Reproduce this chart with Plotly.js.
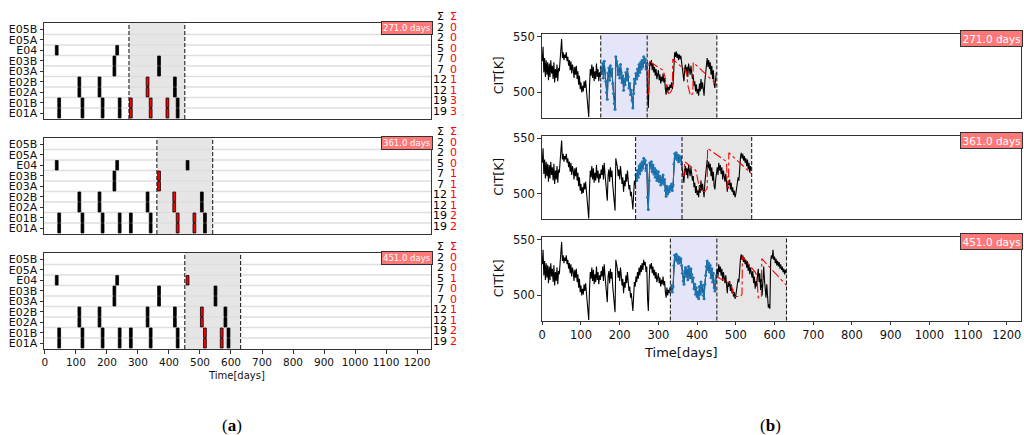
<!DOCTYPE html>
<html>
<head>
<meta charset="utf-8">
<script src="https://cdn.plot.ly/plotly-3.0.1.min.js"></script>
<style>html,body{margin:0;padding:0;background:#fff;}#chart{width:1024px;height:435px;}</style>
</head>
<body>
<div id="chart"></div>
<script>
// ---------------- DATA ----------------
const ROW_LABELS = ['E01A','E01B','E02A','E02B','E03A','E03B','E04','E05A','E05B'];
const GROUP_ROWS = {E01:[0,1], E02:[2,3], E03:[4,5], E04:[6], E05:[7,8]};
const SUM_TOTAL = [19,19,12,12,7,7,5,2,2];
const SUM_RED_P1 = [3,3,1,1,0,0,0,0,0];
const SUM_RED_P2 = [2,2,1,1,1,1,0,0,0];
const SUM_RED_P3 = [2,2,1,1,0,0,1,0,0];
const WINDOW_START = [271, 361, 451];
const WINDOW_LEN = 180;
const HISTORY_LEN = 120;
const DAY_LABELS = ['271.0 days','361.0 days','451.0 days'];
const X_TICKS = [0,100,200,300,400,500,600,700,800,900,1000,1100,1200];

// maintenance events (day of event) per group
const EVENTS_P1_BLACK = {E01:[46,121,186,241,428], E02:[111,176,419], E03:[224,368], E04:[38,233]};
const EVENTS_P1_RED   = {E01:[277,341,395], E02:[331]};
const EVENTS_P2_BLACK = {E01:[46,121,186,241,277,341,516], E02:[111,176,331,506], E03:[224], E04:[38,233,460]};
const EVENTS_P2_RED   = {E01:[428,482], E02:[417], E03:[368]};
const EVENTS_P3_BLACK = {E01:[46,121,186,241,277,341,428,592], E02:[111,176,331,419,582], E03:[224,368,550], E04:[38,233]};
const EVENTS_P3_RED   = {E01:[516,570], E02:[506], E04:[460]};

// CIT [K] measured series, one value every 2 days starting at day 0
const CIT_STEP_DAYS = 2;
const CIT_VALUES = [
528,541,518,531,514,529,516,527,511,526,514,529,517,524,512,527,509,521,513,525,
510,522,519,528,531,548,531,536,529,534,531,536,528,532,524,529,520,528,517,525,
521,513,523,516,524,512,519,507,515,503,509,500,506,501,510,504,511,502,496,486,
478,505,521,515,525,513,523,510,519,512,526,514,521,510,518,514,522,517,526,513,
528,518,510,500,494,517,522,511,524,515,521,508,499,490,485,532,528,524,516,522,
513,525,518,509,515,502,512,507,518,511,521,514,504,508,498,502,493,486,499,512,
508,517,512,521,515,525,518,527,521,529,523,532,527,530,521,526,497,486,512,528,
524,529,520,526,518,523,515,521,512,517,520,511,516,508,514,510,517,509,513,503,
498,507,500,505,502,507,504,509,503,508,527,536,532,537,531,535,529,534,530,533,
527,520,513,510,522,525,517,523,514,526,521,516,524,519,512,516,506,510,501,507,
499,503,497,508,501,512,503,509,500,497,510,518,526,531,523,529,521,527,516,524,
512,520,507,504,513,518,524,517,528,521,526,518,524,513,521,516,511,518,506,502,
512,508,513,504,510,502,506,499,503,497,500,505,510,515,512,525,533,537,532,536,
530,534,528,532,525,531,522,528,519,525,521,516,522,511,517,506,513,508,518,524,
512,520,505,515,500,522,526,514,504,498,510,495,489,492,488,531,536,533,541,532,
535,529,533,527,531,526,530,524,528,523,526,521,524,519,523,520
];

// predicted CIT (red dash-dot) vertices per panel
const PRED_P1_DAYS = [271,275,276,312,317,321,326,331,336,337,372,377,383,389,390,451];
const PRED_P1_VALS = [497,500,528,520,514,504,499,500,503,530,519,505,497,499,527,507];
const PRED_P2_DAYS = [361,366,368,397,405,410,420,426,427,476,478,481,482,541];
const PRED_P2_VALS = [518,516,529,521,507,503,502,505,541,529,506,505,537,518];
const PRED_P3_DAYS = [451,460,488,492,498,512,516,517,550,554,558,566,567,631];
const PRED_P3_VALS = [517,515,511,503,499,499,501,535,521,518,498,498,533,509];

// ---------------- LAYOUT HELPERS ----------------
const W = 1024, H = 435;
const px = x => x / W;
const py = y => 1 - y / H;
const LINE = '#333';
const FONT = 'DejaVu Sans, sans-serif';

const leftX = [px(44), px(431)];
const leftY = [[23,119],[138,234],[253,349]];
const rightX = [px(541.7), px(1020.7)];
const rightY = [[34,117.5],[135.5,219],[237,320.5]];

const redSums = [SUM_RED_P1, SUM_RED_P2, SUM_RED_P3];
const blackEvents = [EVENTS_P1_BLACK, EVENTS_P2_BLACK, EVENTS_P3_BLACK];
const redEvents = [EVENTS_P1_RED, EVENTS_P2_RED, EVENTS_P3_RED];
const predDays = [PRED_P1_DAYS, PRED_P2_DAYS, PRED_P3_DAYS];
const predVals = [PRED_P1_VALS, PRED_P2_VALS, PRED_P3_VALS];

const citDays = CIT_VALUES.map((_, i) => i * CIT_STEP_DAYS);

const data = [];
const shapes = [];
const annotations = [];
const layout = {
  width: W, height: H,
  margin: {l:0, r:0, t:0, b:0},
  paper_bgcolor: '#fff', plot_bgcolor: '#fff',
  showlegend: false, barmode: 'overlay',
  font: {family: FONT, color: '#000'},
  shapes, annotations
};

function note(x, y, text, font, extra) {
  return Object.assign({xref:'paper', yref:'paper', x:px(x), y:py(y), text, showarrow:false,
                        xanchor:'center', yanchor:'middle', font}, extra || {});
}

function barTrace(events, color, ax) {
  const x = [], y = [], base = [];
  for (const g in events) {
    for (const r of GROUP_ROWS[g]) {
      for (const d of events[g]) { x.push(d); y.push(0.9); base.push(r - 0.45); }
    }
  }
  return {type:'bar', x, y, base, width: 9, xaxis:'x'+ax, yaxis:'y'+ax,
          marker:{color, line:{color:'#000', width:0.8}}, hoverinfo:'skip'};
}

for (let p = 0; p < 3; p++) {
  // ---------- LEFT (a) ----------
  const ax = p + 1;
  const xa = 'xaxis' + (ax === 1 ? '' : ax), ya = 'yaxis' + (ax === 1 ? '' : ax);
  const s = WINDOW_START[p], e = s + WINDOW_LEN;
  layout[xa] = {
    domain: leftX, range: [-3, 1245], anchor: 'y' + ax,
    showline: true, mirror: true, linecolor: LINE, linewidth: 1,
    showgrid: false, zeroline: false,
    tickmode: 'array', tickvals: X_TICKS,
    ticks: p === 2 ? 'outside' : '', ticklen: 3.5, tickcolor: LINE,
    showticklabels: p === 2, tickfont: {size: 10.5, color: '#111'}
  };
  layout[ya] = {
    domain: [py(leftY[p][1]), py(leftY[p][0])], range: [-0.55, 8.6], anchor: 'x' + ax,
    showline: true, mirror: true, linecolor: LINE, linewidth: 1,
    showgrid: false, zeroline: false,
    tickmode: 'array', tickvals: ROW_LABELS.map((_, i) => i), ticktext: ROW_LABELS,
    ticks: 'outside', ticklen: 3.5, tickcolor: LINE, tickfont: {size: 11, color: '#111'}
  };
  shapes.push({type:'rect', xref:'x'+ax, yref:'y'+ax+' domain', x0:s, x1:e, y0:0, y1:1,
               fillcolor:'#e6e6e6', line:{width:0}, layer:'below'});
  for (let r = 0; r < ROW_LABELS.length - 1; r++) {
    shapes.push({type:'line', xref:'x'+ax+' domain', yref:'y'+ax, x0:0, x1:1, y0:r+0.5, y1:r+0.5,
                 line:{color:'#dedede', width:1.5}, layer:'below'});
  }
  [s, e].forEach(d => shapes.push({type:'line', xref:'x'+ax, yref:'y'+ax+' domain', x0:d, x1:d, y0:0, y1:1,
               line:{color:'#222', width:1.1, dash:'4px,2px'}, layer:'above'}));
  data.push(barTrace(blackEvents[p], '#000', ax));
  data.push(barTrace(redEvents[p], '#ff0000', ax));
  // sums
  annotations.push(note(440, leftY[p][0] - 7, 'Σ', {size:11, color:'#000'}));
  annotations.push(note(453, leftY[p][0] - 7, 'Σ', {size:11, color:'#ff0000'}));
  for (let r = 0; r < ROW_LABELS.length; r++) {
    annotations.push({xref:'paper', yref:'y'+ax, x:px(440), y:r, xanchor:'center', yanchor:'middle',
      text:String(SUM_TOTAL[r]), showarrow:false, font:{size:11, color:'#000'}, yshift:2});
    annotations.push({xref:'paper', yref:'y'+ax, x:px(453), y:r, xanchor:'center', yanchor:'middle',
      text:String(redSums[p][r]), showarrow:false, font:{size:11, color:'#ff0000'}, yshift:2});
  }
  annotations.push(note(432.7, leftY[p][0] - 1.8, DAY_LABELS[p], {size:8.5, color:'#fff'},
    {xanchor:'right', yanchor:'top', bgcolor:'#ff7878', bordercolor:'#333', borderwidth:1, borderpad:1}));

  // ---------- RIGHT (b) ----------
  const bx = p + 4;
  const s0 = s - HISTORY_LEN;
  layout['xaxis' + bx] = {
    domain: rightX, range: [-1.5, 1236], anchor: 'y' + bx,
    showline: true, mirror: true, linecolor: LINE, linewidth: 1,
    showgrid: false, zeroline: false,
    tickmode: 'array', tickvals: X_TICKS,
    ticks: p === 2 ? 'outside' : '', ticklen: 3.5, tickcolor: LINE,
    showticklabels: p === 2, tickfont: {size: 11.5, color: '#111'}
  };
  layout['yaxis' + bx] = {
    domain: [py(rightY[p][1]), py(rightY[p][0])], range: [477.5, 552.5], anchor: 'x' + bx,
    showline: true, mirror: true, linecolor: LINE, linewidth: 1,
    showgrid: false, zeroline: false,
    tickmode: 'array', tickvals: [500, 550],
    ticks: 'outside', ticklen: 3.5, tickcolor: LINE, tickfont: {size: 11.5, color: '#111'}
  };
  shapes.push({type:'rect', xref:'x'+bx, yref:'y'+bx+' domain', x0:s0, x1:s, y0:0, y1:1,
               fillcolor:'#e5e5fa', line:{width:0}, layer:'below'});
  shapes.push({type:'rect', xref:'x'+bx, yref:'y'+bx+' domain', x0:s, x1:e, y0:0, y1:1,
               fillcolor:'#e6e6e6', line:{width:0}, layer:'below'});
  [s0, s, e].forEach(d => shapes.push({type:'line', xref:'x'+bx, yref:'y'+bx+' domain', x0:d, x1:d, y0:0, y1:1,
               line:{color:'#222', width:1.1, dash:'4px,2px'}, layer:'above'}));
  const bxd = [], byd = [], hx = [], hy = [];
  citDays.forEach((d, i) => {
    if (d <= e) { bxd.push(d); byd.push(CIT_VALUES[i]); }
    if (d >= s0 && d <= s) { hx.push(d); hy.push(CIT_VALUES[i]); }
  });
  data.push({type:'scatter', mode:'lines', x:bxd, y:byd, xaxis:'x'+bx, yaxis:'y'+bx,
             line:{color:'#000', width:1.1}, hoverinfo:'skip'});
  data.push({type:'scatter', mode:'lines+markers', x:hx, y:hy, xaxis:'x'+bx, yaxis:'y'+bx,
             line:{color:'#1f77b4', width:1}, marker:{color:'#1f77b4', size:3}, hoverinfo:'skip'});
  data.push({type:'scatter', mode:'lines', x:predDays[p], y:predVals[p], xaxis:'x'+bx, yaxis:'y'+bx,
             line:{color:'#ff0000', width:1.1, dash:'dashdot'}, hoverinfo:'skip'});
  annotations.push(note(498.5, (rightY[p][0] + rightY[p][1]) / 2, 'CIT[K]', {size:12.5, color:'#111'}, {textangle:-90}));
  annotations.push(note(1023.3, rightY[p][0] - 4, DAY_LABELS[p], {size:10.5, color:'#fff'},
    {xanchor:'right', yanchor:'top', bgcolor:'#ff7878', bordercolor:'#333', borderwidth:1, borderpad:1.5}));
}

annotations.push(note(236, 375, 'Time[days]', {size:10, color:'#111'}));
annotations.push(note(681, 352, 'Time[days]', {size:13, color:'#111'}));
annotations.push(note(232, 425, '(<b>a</b>)', {size:17, family:'Liberation Serif, serif', color:'#000'}));
annotations.push(note(770, 425, '(<b>b</b>)', {size:17, family:'Liberation Serif, serif', color:'#000'}));

Plotly.newPlot('chart', data, layout, {staticPlot:true, displayModeBar:false});
</script>
</body>
</html>
